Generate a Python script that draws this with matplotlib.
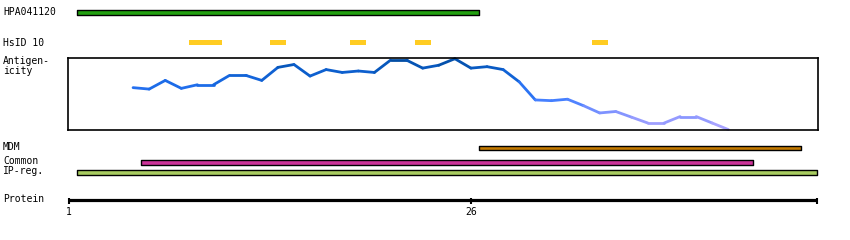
import numpy as np
import matplotlib
matplotlib.use('Agg')
import matplotlib.pyplot as plt
from matplotlib.collections import LineCollection
from matplotlib.colors import LinearSegmentedColormap

# ---------------------------------------------------------------------------
# Data (residue coordinates)
# ---------------------------------------------------------------------------
protein_start, protein_end = 1, 47.5
tick_positions = [1, 26]

hpa_range = (1.5, 26.5)
hsid_ranges = [(8.5, 10.5), (13.5, 14.5), (18.5, 19.5), (22.5, 23.5), (33.5, 34.5)]
mdm_range = (26.5, 46.5)
common_range = (5.5, 43.5)
ipreg_range = (1.5, 47.5)

antigen_pos = list(range(5, 43))
antigen_val = [0.59, 0.57, 0.69, 0.58, 0.63, 0.63, 0.76, 0.76, 0.69, 0.87,
               0.91, 0.75, 0.84, 0.80, 0.82, 0.80, 0.97, 0.97, 0.86, 0.90,
               0.99, 0.86, 0.88, 0.84, 0.67, 0.42, 0.41, 0.43, 0.34, 0.24,
               0.26, 0.18, 0.10, 0.10, 0.19, 0.19, 0.10, 0.01]

# ---------------------------------------------------------------------------
# Figure (pixel layout helpers)
# ---------------------------------------------------------------------------
W, H = 850, 240
PX0, PX_PER_RES = 68.7, 16.09


def px2res(px):
    return 1 + (px - PX0) / PX_PER_RES


fig = plt.figure(figsize=(W / 100, H / 100), dpi=100)
ax = fig.add_axes([0, 0, 1, 1])
ax.set_xlim(px2res(0), px2res(W))
ax.set_ylim(H, 0)
ax.axis('off')

font = dict(family='DejaVu Sans Mono', fontsize=7, color='black')


def bar(rng, y0, y1, color, edge=True):
    ax.fill_between(list(rng), y0, y1, facecolor=color,
                    edgecolor='black' if edge else 'none', linewidth=1.0)


# Labels
ax.text(px2res(3), 12, 'HPA041120', va='center', **font)
ax.text(px2res(3), 42.5, 'HsID 10', va='center', **font)
ax.text(px2res(3), 66, 'Antigen-\nicity', va='center', linespacing=0.95, **font)
ax.text(px2res(3), 147, 'MDM', va='center', **font)
ax.text(px2res(3), 161.5, 'Common', va='center', **font)
ax.text(px2res(3), 171.5, 'IP-reg.', va='center', **font)
ax.text(px2res(3), 199.5, 'Protein', va='center', **font)

# Tracks
bar(hpa_range, 10, 14.5, '#22a010')
for r in hsid_ranges:
    bar(r, 40, 44.5, '#ffcc22', edge=False)
bar(mdm_range, 145.5, 150.2, '#c47a00')
bar(common_range, 160, 164.5, '#cc3399')
bar(ipreg_range, 170, 174.5, '#a8cc60')

# Protein axis
ax.plot([protein_start, protein_end], [199.5, 199.5], color='black',
        linewidth=2.3, solid_capstyle='butt')
for t in tick_positions + [protein_end]:
    ax.plot([t, t], [198, 203.5], color='black', linewidth=1.5,
            solid_capstyle='butt')
for t in tick_positions:
    ax.text(t, 212, str(t), ha='center', va='center', **font)

# Antigenicity panel
left_px, right_px, top_px, bot_px = 68.3, 817.7, 58, 130.3
ax2 = fig.add_axes([left_px / W, 1 - bot_px / H,
                    (right_px - left_px) / W, (bot_px - top_px) / H])
ax2.set_xlim(px2res(left_px), px2res(right_px))
ax2.set_ylim(0, 1)
ax2.set_xticks([])
ax2.set_yticks([])
for s in ax2.spines.values():
    s.set_linewidth(1.2)
    s.set_color('black')

cmap = LinearSegmentedColormap.from_list(
    'antigen', [(0.0, '#b4a8ff'), (0.25, '#7e92ff'), (0.45, '#3a7cff'),
                (0.65, '#1a6ae6'), (0.85, '#0a5cc8'), (1.0, '#004a9c')])
pts = np.column_stack([antigen_pos, antigen_val])
segs = np.stack([pts[:-1], pts[1:]], axis=1)
mid = (np.array(antigen_val[:-1]) + np.array(antigen_val[1:])) / 2
lc = LineCollection(segs, colors=cmap(mid), linewidths=2.0, capstyle='round')
lc.set_clip_on(False)
ax2.add_collection(lc)

fig.savefig('out.png', dpi=100)
